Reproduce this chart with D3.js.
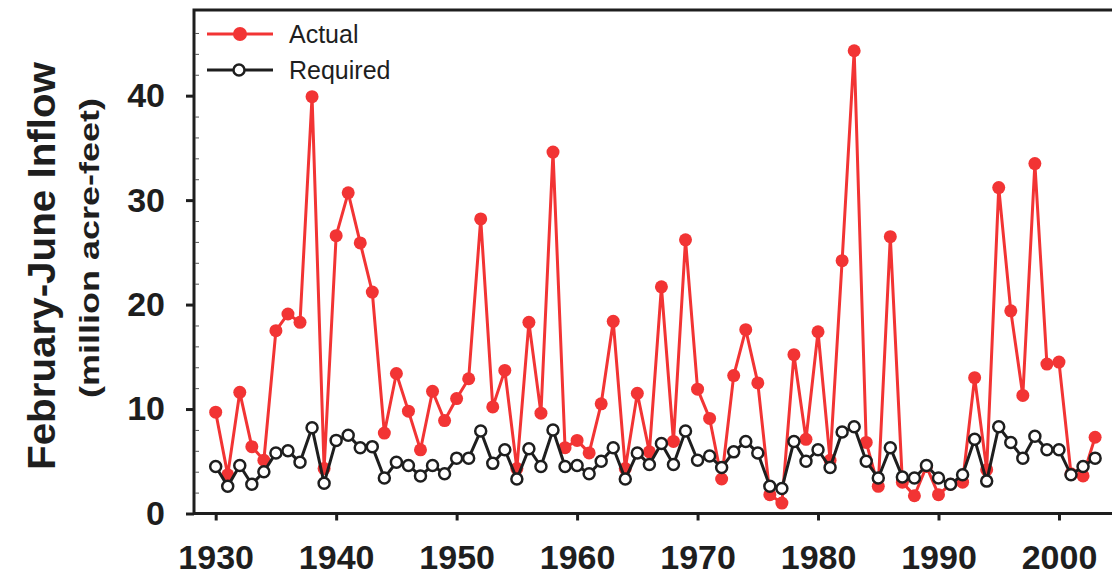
<!DOCTYPE html>
<html>
<head>
<meta charset="utf-8">
<script src="https://cdn.jsdelivr.net/npm/d3@7"></script>
<style>
  html, body { margin: 0; padding: 0; background: #ffffff; }
  svg { display: block; }
</style>
</head>
<body>
<svg id="chart" width="1112" height="580"></svg>
<script>
// ---- data ----
const years = d3.range(1930, 2004);
const actual = [
  9.7, 3.7, 11.6, 6.4, 5.1, 17.5, 19.1, 18.3, 39.9, 4.3,
  26.6, 30.7, 25.9, 21.2, 7.7, 13.4, 9.8, 6.1, 11.7, 8.9,
  11.0, 12.9, 28.2, 10.2, 13.7, 4.3, 18.3, 9.6, 34.6, 6.3,
  7.0, 5.8, 10.5, 18.4, 4.3, 11.5, 5.9, 21.7, 6.9, 26.2,
  11.9, 9.1, 3.3, 13.2, 17.6, 12.5, 1.8, 1.0, 15.2, 7.1,
  17.4, 5.1, 24.2, 44.3, 6.8, 2.6, 26.5, 3.0, 1.7, 4.5,
  1.8, 2.8, 3.0, 13.0, 4.2, 31.2, 19.4, 11.3, 33.5, 14.3,
  14.5, 3.8, 3.6, 7.3
];
const required = [
  4.5, 2.6, 4.6, 2.8, 4.0, 5.8, 6.0, 4.9, 8.2, 2.9,
  7.0, 7.5, 6.3, 6.4, 3.4, 4.9, 4.6, 3.6, 4.6, 3.8,
  5.3, 5.3, 7.9, 4.8, 6.1, 3.3, 6.2, 4.5, 8.0, 4.5,
  4.6, 3.8, 5.0, 6.3, 3.3, 5.8, 4.7, 6.7, 4.7, 7.9,
  5.1, 5.5, 4.4, 5.9, 6.9, 5.8, 2.6, 2.4, 6.9, 5.0,
  6.1, 4.4, 7.8, 8.3, 5.0, 3.4, 6.3, 3.5, 3.4, 4.6,
  3.4, 2.8, 3.7, 7.1, 3.1, 8.3, 6.8, 5.3, 7.4, 6.1,
  6.1, 3.7, 4.5, 5.3
];
const xTicks = [1930, 1940, 1950, 1960, 1970, 1980, 1990, 2000];
const yTicks = [0, 10, 20, 30, 40];
const yMinorTicks = d3.range(0, 48, 2);
const seriesNames = ["Actual", "Required"];
const yTitle = "February-June Inflow";
const ySubtitle = "(million acre-feet)";

// ---- layout ----
const svg = d3.select("#chart");
const L = 194, R = 1118, T = 10, B = 513.5;
const x = d3.scaleLinear().domain([1928.2, 2004.9]).range([L, R]);
const y = d3.scaleLinear().domain([0, 48.2]).range([B, T]);

const RED = "#f23434";
const INK = "#1e1e1e";
const FONT = "'Liberation Sans', Arial, Helvetica, sans-serif";

// frame
svg.append("rect")
  .attr("x", L).attr("y", T).attr("width", R - L).attr("height", B - T)
  .attr("fill", "none").attr("stroke", INK).attr("stroke-width", 3);

// x axis
const xAxis = d3.axisBottom(x).tickValues(xTicks).tickFormat(d3.format("d"))
  .tickSizeInner(7).tickSizeOuter(0).tickPadding(24);
const gx = svg.append("g").attr("transform", `translate(0,${B})`).call(xAxis);
gx.select(".domain").remove();
gx.selectAll(".tick line").attr("stroke", INK).attr("stroke-width", 3);
gx.selectAll(".tick text")
  .attr("fill", INK)
  .style("font-family", FONT).style("font-weight", "bold").style("font-size", "34px");

// y axis major
const yAxis = d3.axisLeft(y).tickValues(yTicks).tickFormat(d3.format("d"))
  .tickSizeInner(8).tickSizeOuter(0).tickPadding(21);
const gy = svg.append("g").attr("transform", `translate(${L},0)`).call(yAxis);
gy.select(".domain").remove();
gy.selectAll(".tick line").attr("stroke", INK).attr("stroke-width", 3);
gy.selectAll(".tick text")
  .attr("fill", INK)
  .style("font-family", FONT).style("font-weight", "bold").style("font-size", "34px");

// y minor ticks (inside)
const yMinor = d3.axisRight(y).tickValues(yMinorTicks.filter(v => v % 10 !== 0))
  .tickSize(4).tickFormat("");
const gym = svg.append("g").attr("transform", `translate(${L + 1},0)`).call(yMinor);
gym.select(".domain").remove();
gym.selectAll(".tick line").attr("stroke", "#555").attr("stroke-width", 1);

// axis titles
svg.append("text")
  .attr("transform", `translate(55,266) rotate(-90)`)
  .attr("text-anchor", "middle")
  .attr("fill", INK)
  .attr("textLength", 408).attr("lengthAdjust", "spacingAndGlyphs")
  .style("font-family", FONT).style("font-weight", "bold").style("font-size", "38px")
  .text(yTitle);
svg.append("text")
  .attr("transform", `translate(99,248) rotate(-90)`)
  .attr("text-anchor", "middle")
  .attr("fill", INK)
  .attr("textLength", 300).attr("lengthAdjust", "spacingAndGlyphs")
  .style("font-family", FONT).style("font-weight", "bold").style("font-size", "27px")
  .text(ySubtitle);

// data
const dataA = years.map((yr, i) => ({ yr, v: actual[i] }));
const dataR = years.map((yr, i) => ({ yr, v: required[i] }));
const line = d3.line().x(d => x(d.yr)).y(d => y(d.v));

const plot = svg.append("g");
plot.append("path").datum(dataA)
  .attr("d", line).attr("fill", "none").attr("stroke", RED).attr("stroke-width", 3)
  .attr("stroke-linejoin", "round");
plot.selectAll("circle.a").data(dataA).enter().append("circle")
  .attr("class", "a")
  .attr("cx", d => x(d.yr)).attr("cy", d => y(d.v)).attr("r", 6.5)
  .attr("fill", RED);

plot.append("path").datum(dataR)
  .attr("d", line).attr("fill", "none").attr("stroke", INK).attr("stroke-width", 3)
  .attr("stroke-linejoin", "round");
plot.selectAll("circle.r").data(dataR).enter().append("circle")
  .attr("class", "r")
  .attr("cx", d => x(d.yr)).attr("cy", d => y(d.v)).attr("r", 5.5)
  .attr("fill", "#ffffff").attr("stroke", INK).attr("stroke-width", 2.5);

// legend
const legend = svg.append("g");
const legItems = [
  { name: seriesNames[0], y: 34, color: RED, open: false },
  { name: seriesNames[1], y: 70, color: INK, open: true }
];
legItems.forEach(it => {
  legend.append("line")
    .attr("x1", 207).attr("x2", 273).attr("y1", it.y).attr("y2", it.y)
    .attr("stroke", it.color).attr("stroke-width", 3);
  if (it.open) {
    legend.append("circle").attr("cx", 239).attr("cy", it.y).attr("r", 5.5)
      .attr("fill", "#fff").attr("stroke", INK).attr("stroke-width", 2.5);
  } else {
    legend.append("circle").attr("cx", 240).attr("cy", it.y).attr("r", 7)
      .attr("fill", RED);
  }
  legend.append("text")
    .attr("x", 289).attr("y", it.y + 8.5)
    .attr("fill", INK)
    .style("font-family", FONT).style("font-size", "25px")
    .text(it.name);
});
</script>
</body>
</html>
